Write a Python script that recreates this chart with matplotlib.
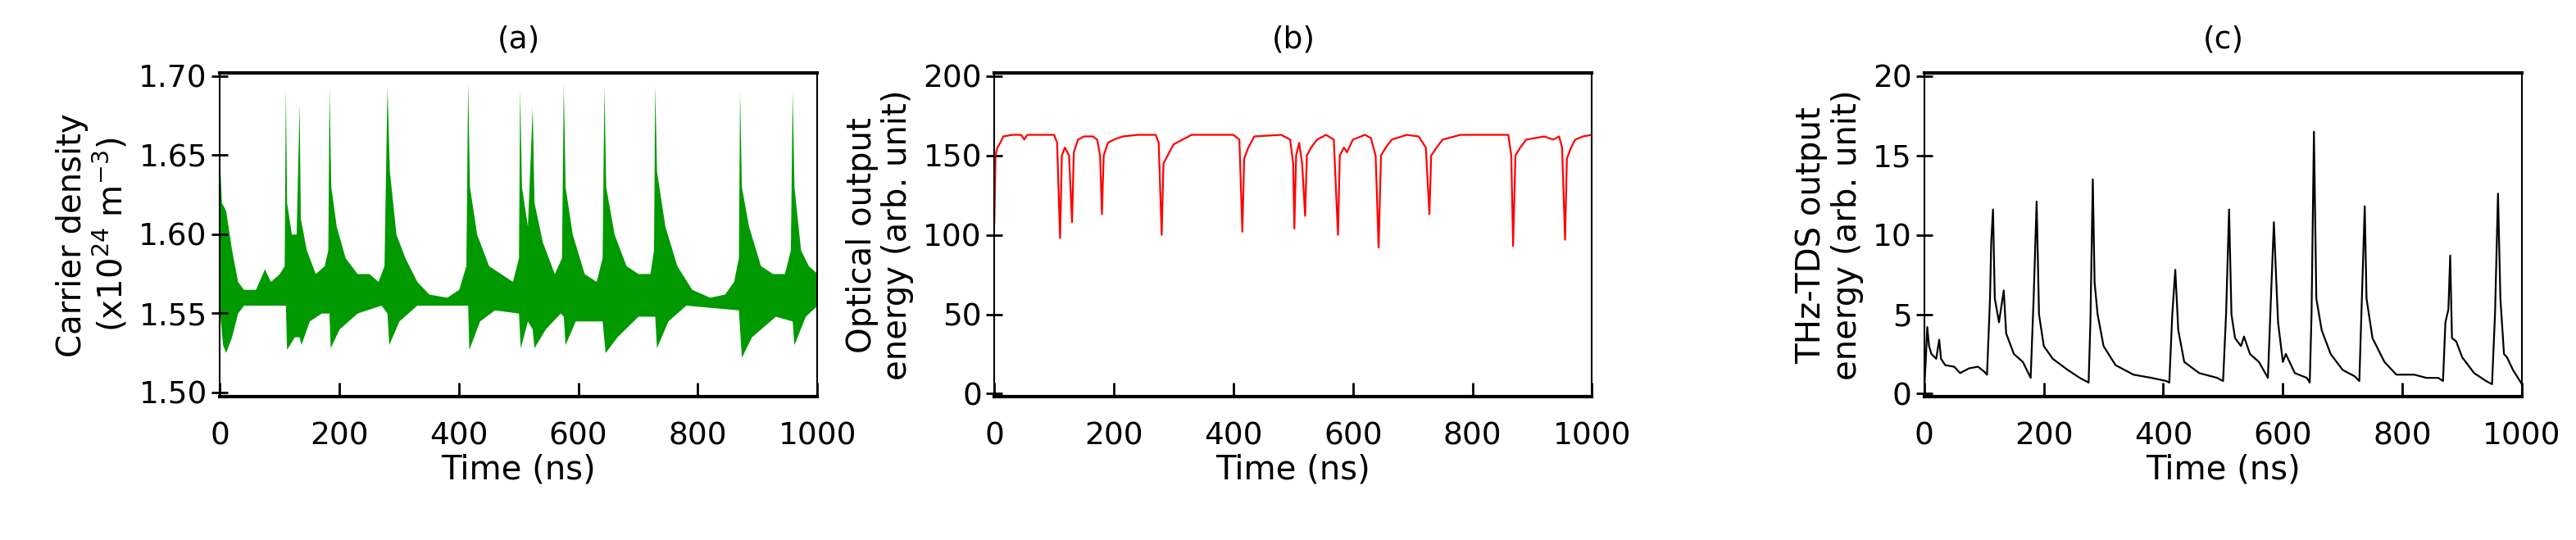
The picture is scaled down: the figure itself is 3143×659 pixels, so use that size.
import matplotlib
matplotlib.use("Agg")
import matplotlib.pyplot as plt

# (a) carrier density envelope (x1e24 m^-3)
carrier_upper_t = [0, 3, 10, 20, 30, 40, 60, 75, 85, 100, 108, 110, 112, 120, 128, 133, 135, 145, 160, 175,
                   181, 183, 186, 195, 210, 230, 250, 265, 275, 280, 284, 295, 310, 330, 350, 380, 400, 412,
                   415, 418, 430, 450, 470, 490, 500, 502, 505, 515, 523, 526, 540, 560, 572, 575, 578, 590,
                   610, 630, 640, 643, 646, 660, 680, 700, 720, 726, 728, 731, 745, 765, 790, 820, 845, 860,
                   868, 870, 873, 885, 905, 925, 945, 955, 958, 961, 972, 985, 1000]
carrier_upper = [1.645, 1.62, 1.615, 1.59, 1.57, 1.565, 1.565, 1.578, 1.57, 1.575, 1.58, 1.692, 1.62, 1.60,
                 1.60, 1.682, 1.61, 1.59, 1.575, 1.58, 1.59, 1.692, 1.63, 1.605, 1.585, 1.575, 1.575, 1.57,
                 1.58, 1.693, 1.64, 1.60, 1.585, 1.57, 1.562, 1.56, 1.565, 1.58, 1.696, 1.63, 1.60, 1.58,
                 1.575, 1.57, 1.585, 1.691, 1.63, 1.605, 1.680, 1.62, 1.595, 1.575, 1.585, 1.695, 1.63, 1.60,
                 1.575, 1.57, 1.585, 1.693, 1.63, 1.60, 1.58, 1.575, 1.575, 1.59, 1.694, 1.64, 1.605, 1.58,
                 1.565, 1.56, 1.562, 1.57, 1.585, 1.690, 1.63, 1.605, 1.58, 1.575, 1.575, 1.59, 1.690, 1.63,
                 1.59, 1.58, 1.575]
carrier_lower_t = [0, 5, 10, 20, 30, 40, 100, 110, 112, 125, 133, 136, 150, 170, 183, 185, 200, 230, 270,
                   280, 283, 300, 330, 415, 417, 435, 460, 500, 503, 515, 523, 526, 545, 570, 575, 578, 595,
                   640, 645, 665, 700, 728, 731, 750, 780, 868, 873, 890, 930, 958, 961, 980, 1000]
carrier_lower = [1.55, 1.53, 1.525, 1.535, 1.55, 1.555, 1.555, 1.555, 1.527, 1.535, 1.535, 1.53, 1.545,
                 1.55, 1.55, 1.528, 1.54, 1.55, 1.555, 1.55, 1.530, 1.545, 1.555, 1.555, 1.527, 1.545, 1.552,
                 1.55, 1.528, 1.545, 1.54, 1.528, 1.54, 1.55, 1.548, 1.53, 1.545, 1.545, 1.525, 1.535, 1.548,
                 1.548, 1.528, 1.545, 1.555, 1.552, 1.522, 1.535, 1.548, 1.545, 1.53, 1.548, 1.555]

# (b) optical output energy
optical_t = [0, 2, 5, 10, 15, 30, 45, 50, 55, 100, 105, 110, 113, 118, 125, 130, 133, 140, 150, 165, 172,
             177, 180, 183, 190, 200, 215, 240, 270, 275, 280, 283, 290, 300, 315, 330, 400, 410, 415, 418,
             425, 435, 480, 495, 500, 502, 505, 510, 515, 520, 523, 530, 540, 555, 568, 575, 578, 585, 590,
             600, 620, 630, 638, 643, 647, 655, 665, 690, 710, 722, 728, 731, 740, 750, 780, 860, 865, 868,
             872, 880, 890, 920, 935, 945, 950, 955, 958, 965, 972, 985, 1000]
optical = [108, 150, 155, 158, 162, 163, 163, 160, 163, 163, 158, 98, 150, 155, 150, 108, 152, 160, 162,
           162, 160, 150, 113, 150, 158, 160, 162, 163, 163, 158, 100, 145, 150, 157, 160, 163, 163, 160,
           102, 148, 155, 162, 163, 160, 145, 104, 150, 158, 145, 112, 150, 155, 160, 163, 160, 100, 150,
           155, 152, 160, 163, 161, 150, 92, 150, 155, 160, 163, 162, 155, 113, 150, 155, 160, 163, 163,
           150, 93, 150, 155, 160, 162, 160, 162, 155, 97, 148, 155, 160, 162, 163]

# (c) THz-TDS output energy
thz_t = [0, 3, 5, 8, 12, 20, 25, 28, 35, 50, 60, 75, 90, 100, 105, 110, 112, 115, 118, 125, 133, 137, 150,
         165, 178, 181, 183, 188, 192, 200, 215, 240, 260, 275, 278, 282, 285, 290, 300, 320, 350, 380, 405,
         410, 415, 420, 425, 435, 460, 490, 500, 505, 510, 514, 520, 530, 535, 545, 560, 575, 578, 585, 588,
         592, 600, 605, 620, 640, 645, 648, 652, 656, 665, 680, 700, 720, 728, 731, 737, 740, 750, 770, 790,
         820, 840, 860, 868, 872, 877, 880, 883, 890, 900, 920, 940, 950, 955, 960, 964, 970, 975, 985, 995,
         1000]
thz = [0.3, 2.5, 4.2, 3.0, 2.5, 2.2, 3.4, 2.2, 1.8, 1.7, 1.3, 1.6, 1.7, 1.4, 1.2, 6.0, 9.5, 11.6, 6.0, 4.5,
       6.5, 3.8, 2.5, 2.0, 1.0, 4.0, 6.0, 12.1, 5.0, 3.0, 2.2, 1.5, 1.0, 0.7, 4.5, 13.5, 7.0, 5.0, 3.0, 1.8,
       1.2, 1.0, 0.8, 0.7, 5.0, 7.8, 4.0, 2.0, 1.3, 1.0, 0.8, 5.0, 11.6, 5.0, 3.5, 3.0, 3.6, 2.5, 2.0, 1.0,
       4.0, 10.8, 8.0, 4.5, 2.0, 2.5, 1.3, 1.0, 0.7, 5.0, 16.5, 6.0, 4.0, 2.5, 1.5, 1.1, 0.8, 4.5, 11.8, 6.0,
       3.5, 2.0, 1.2, 1.2, 1.0, 1.0, 0.8, 4.5, 5.3, 8.7, 3.5, 3.3, 2.3, 1.3, 0.8, 0.6, 5.0, 12.6, 6.0, 2.5,
       2.3, 1.5, 0.9, 0.6]

time_ticks = [0, 200, 400, 600, 800, 1000]

plt.rcParams["font.family"] = ["Liberation Sans Narrow", "DejaVu Sans"]
fig = plt.figure(figsize=(31.43, 6.59), dpi=100)

lefts = [0.0853, 0.386, 0.747]
axes = [fig.add_axes([l, 0.265, 0.232, 0.60]) for l in lefts]


def style(ax, title, ylabel, ylim, yticks, yfmt):
    ax.set_xlim(0, 1000)
    ax.set_ylim(*ylim)
    ax.set_xticks(time_ticks)
    ax.set_yticks(yticks)
    ax.set_yticklabels([yfmt.format(v) for v in yticks])
    ax.tick_params(axis="x", direction="in", length=12, width=2, pad=22, labelsize=27)
    ax.tick_params(axis="y", direction="inout", length=14, width=2, pad=4, labelsize=27)
    for side in ["top", "bottom"]:
        ax.spines[side].set_linewidth(3)
    for side in ["left", "right"]:
        ax.spines[side].set_linewidth(1.5)
    ax.set_title(title, fontsize=27, pad=22)
    ax.set_xlabel("Time (ns)", fontsize=29, labelpad=2)
    ax.set_ylabel(ylabel, fontsize=29, family="DejaVu Sans", labelpad=8, linespacing=1.1)


ax = axes[0]
ax.fill_between(carrier_upper_t, carrier_upper, 1.556, color="#009900", linewidth=0)
ax.fill_between(carrier_lower_t, carrier_lower, 1.558, color="#009900", linewidth=0)
style(ax, "(a)", "Carrier density\n(x10$^{24}$ m$^{-3}$)", (1.497, 1.702),
      [1.50, 1.55, 1.60, 1.65, 1.70], "{:.2f}")

ax = axes[1]
ax.plot(optical_t, optical, color="red", linewidth=1.6)
style(ax, "(b)", "Optical output\nenergy (arb. unit)", (-2, 202), [0, 50, 100, 150, 200], "{:g}")

ax = axes[2]
ax.plot(thz_t, thz, color="black", linewidth=1.6)
style(ax, "(c)", "THz-TDS output\nenergy (arb. unit)", (-0.2, 20.2), [0, 5, 10, 15, 20], "{:g}")

fig.savefig("out.png", dpi=100)
